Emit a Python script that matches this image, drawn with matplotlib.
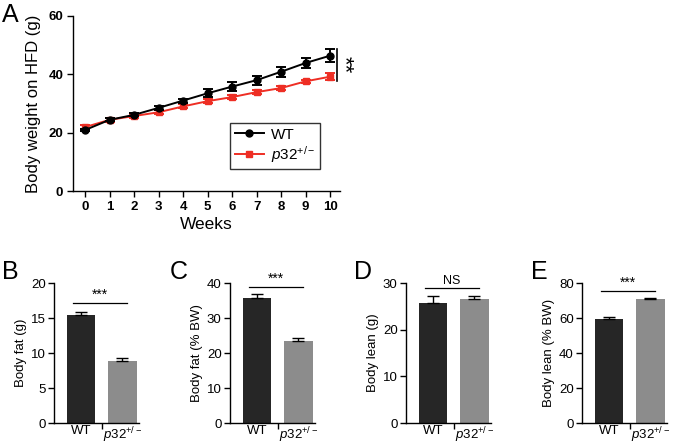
import numpy as np
import matplotlib.pyplot as plt
from matplotlib.lines import Line2D

plt.rcParams['font.family'] = ['Liberation Sans', 'DejaVu Sans']
plt.rcParams['mathtext.fontset'] = 'custom'
plt.rcParams['mathtext.rm'] = 'Liberation Sans'
plt.rcParams['mathtext.it'] = 'Liberation Sans:italic'
plt.rcParams['axes.linewidth'] = 1.0

# ---------------- data ----------------
weeks = [0, 1, 2, 3, 4, 5, 6, 7, 8, 9, 10]
wt_weight = [20.9, 24.4, 26.1, 28.5, 31.0, 33.5, 35.8, 38.0, 40.9, 43.9, 46.4]
wt_err = [0.5, 0.5, 0.5, 0.6, 0.7, 1.4, 1.5, 1.5, 1.7, 1.8, 2.2]
ko_weight = [21.9, 24.4, 25.7, 27.0, 29.0, 30.8, 32.2, 33.9, 35.3, 37.6, 39.2]
ko_err = [0.6, 0.6, 0.6, 0.7, 0.7, 0.8, 0.7, 0.6, 0.6, 0.6, 1.3]

groups = ['WT', r'$\mathit{p32}^{\mathit{+/-}}$']
bar_colors = ['#262626', '#8c8c8c']

fat_g = [15.4, 8.8]
fat_g_err = [0.5, 0.5]
fat_pct = [35.6, 23.4]
fat_pct_err = [1.2, 0.9]
lean_g = [25.8, 26.5]
lean_g_err = [1.4, 0.8]
lean_pct = [59.2, 70.7]
lean_pct_err = [1.2, 0.6]

RED = '#ee2e24'

fig = plt.figure(figsize=(6.75, 4.44), dpi=100)
W, H = 675, 444


def px_axes(l, t, r, b):
    return fig.add_axes([l / W, 1 - b / H, (r - l) / W, (b - t) / H])


# ---------------- panel A ----------------
ax = px_axes(73, 16, 340, 191)
ax.errorbar(weeks, wt_weight, yerr=wt_err, color='black', marker='o', ms=5,
            lw=1.4, capsize=3.5, capthick=1.4, elinewidth=1.4, zorder=3)
ax.errorbar(weeks, ko_weight, yerr=ko_err, color=RED, marker='s', ms=5,
            lw=1.4, capsize=3.5, capthick=1.4, elinewidth=1.4, zorder=2)
ax.set_xlim(-0.49, 10.4)
ax.set_ylim(0, 60)
ax.set_xticks(weeks)
ax.set_yticks([0, 20, 40, 60])
ax.tick_params(labelsize=9.5, width=1.0, length=4, pad=3)
for t in ax.get_xticklabels() + ax.get_yticklabels():
    t.set_fontweight('bold')
ax.spines[['top', 'right']].set_visible(False)
ax.set_xlabel('Weeks', fontsize=12.5, labelpad=3)
ax.set_ylabel('Body weight on HFD (g)', fontsize=12, labelpad=5)
handles = [Line2D([], [], color='black', marker='o', ms=5, lw=1.4),
           Line2D([], [], color=RED, marker='s', ms=5, lw=1.4)]
leg = ax.legend(handles, ['WT', groups[1]], loc='upper left',
                bbox_to_anchor=((230 - 73) / 267, 1 - (123 - 16) / 175),
                fontsize=11, frameon=True, fancybox=False, edgecolor='black',
                handlelength=1.9, handletextpad=0.5, borderpad=0.3,
                labelspacing=0.15, borderaxespad=0)
leg.get_frame().set_linewidth(1.0)
ax.plot([10.28, 10.28], [37.6, 48.8], color='black', lw=1.2, clip_on=False)
ax.text(10.58, 43.2, '**', rotation=-90, fontsize=16, ha='center', va='center')
fig.text(2 / W, 1 - 15 / H, 'A', fontsize=18, va='center', ha='left')


# ---------------- bar panels ----------------
def bar_panel(left_px, vals, errs, ymax, ystep, ylabel, sig_y, sig_text, letter, letter_x):
    ax = px_axes(left_px, 283, left_px + 85, 423)
    x = np.arange(len(vals))
    ax.bar(x, vals, width=0.68, color=bar_colors, edgecolor='none')
    ax.errorbar(x, vals, yerr=[[0] * len(errs), errs], fmt='none', ecolor='black',
                elinewidth=1.0, capsize=4, capthick=1.0)
    ax.set_xlim(-0.65, 1.4)
    ax.set_ylim(0, ymax)
    ax.set_yticks(np.arange(0, ymax + 0.1, ystep))
    ax.set_xticks(x)
    ax.set_xticklabels(groups)
    ax.set_xticks([0.5], minor=True)
    ax.tick_params(axis='x', which='major', length=0, labelsize=9.5, pad=1.5)
    ax.tick_params(axis='x', which='minor', length=4, width=1.0)
    ax.tick_params(axis='y', labelsize=9.5, length=4, width=1.0, pad=2)
    ax.spines[['top', 'right']].set_visible(False)
    ax.set_ylabel(ylabel, fontsize=9.5, labelpad=3)
    ax.plot([-0.2, 1.1], [sig_y, sig_y], color='black', lw=0.9, clip_on=False)
    ax.text(0.45, sig_y + ymax * 0.01, sig_text, ha='center', va='bottom',
            fontsize=9 if sig_text == 'NS' else 10)
    fig.text(letter_x / W, 1 - 272 / H, letter, fontsize=18, va='center', ha='left')


bar_panel(54, fat_g, fat_g_err, 20, 5, 'Body fat (g)', 17.1, '***', 'B', 2)
bar_panel(230, fat_pct, fat_pct_err, 40, 10, 'Body fat (% BW)', 38.8, '***', 'C', 170)
bar_panel(406, lean_g, lean_g_err, 30, 10, 'Body lean (g)', 28.9, 'NS', 'D', 354)
bar_panel(582, lean_pct, lean_pct_err, 80, 20, 'Body lean (% BW)', 75.2, '***', 'E', 531)

fig.savefig('out.png', dpi=100)
